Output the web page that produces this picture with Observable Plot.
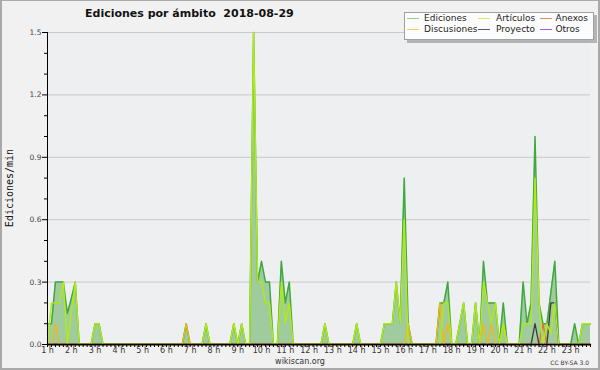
<!DOCTYPE html>
<html><head><meta charset="utf-8">
<script src="https://cdn.jsdelivr.net/npm/d3@7"></script>
<script src="https://cdn.jsdelivr.net/npm/@observablehq/plot@0.6"></script>
<style>
html,body{margin:0;padding:0;background:#fff;}
#wrap{position:relative;width:600px;height:370px;background:#f1f1f1;overflow:hidden;font-family:"DejaVu Sans",sans-serif;}
#border{position:absolute;left:0;top:0;width:600px;height:370px;box-sizing:border-box;border:1px solid #a9a9a9;border-width:1px 2px 2px 2px;pointer-events:none;}
#chart{position:absolute;left:0;top:0;}
.t{position:absolute;white-space:nowrap;line-height:1;}
#title{left:85px;top:8.4px;font-size:11px;font-weight:bold;color:#111;}
#ylab{left:9.7px;top:188px;font-family:"DejaVu Sans Mono",monospace;font-size:10px;color:#111;transform:translate(-50%,-50%) rotate(-90deg);}
#foot{left:300px;top:357.5px;font-size:8px;color:#333;transform:translateX(-50%);}
#cc{right:11px;top:359.5px;font-size:6px;color:#333;}
#shadow{position:absolute;left:407px;top:15px;width:190px;height:28px;background:#b4b4b4;}
#legend{position:absolute;left:404px;top:12px;width:188px;height:26px;background:#fcfcfc;border:1px solid #a0a0a0;}
.sw{position:absolute;height:1px;width:12px;}
.lt{position:absolute;font-size:9px;line-height:1;color:#222;white-space:nowrap;}
</style></head>
<body><div id="wrap"><div id="chart"></div>
<div class="t" id="title">Ediciones por ámbito&nbsp;&nbsp;2018-08-29</div>
<div class="t" id="ylab">Ediciones/min</div>
<div class="t" id="foot">wikiscan.org</div>
<div class="t" id="cc">CC BY-SA 3.0</div>
<div id="shadow"></div><div id="legend"></div>
<div id="border"></div>
</div>
<script>
// 10-minute samples starting at 1 h
const ediciones = [
 0.1,0.1,0.3,0.3,0.3,0.15,0.22,0.3,0,0,0,0,
 0.1,0.1,0,0,0,0,0,0,0,0,0,0,
 0,0,0,0,0,0,0,0,0,0,0,0.1,
 0,0,0,0,0.1,0,0,0,0,0,0,0.1,
 0,0.1,0,0,1.5,0.3,0.4,0.3,0.3,0,0,0.4,
 0.2,0.3,0,0,0,0,0,0,0,0,0.1,0,
 0,0,0,0,0,0,0.1,0,0,0,0,0,
 0,0.1,0.1,0.1,0.3,0.1,0.8,0.1,0,0,0,0,
 0,0,0,0.2,0.2,0.3,0,0,0.1,0.2,0,0,
 0.2,0,0.4,0.2,0.2,0.2,0,0.2,0,0,0,0,
 0.3,0.1,0.2,1.0,0.2,0.1,0.1,0.25,0.4,0,0,0,
 0,0.1,0,0.1,0.1,0.1];
const articulos = [
 0,0.2,0.2,0.2,0.3,0,0.15,0.3,0,0,0,0,
 0.1,0.1,0,0,0,0,0,0,0,0,0,0,
 0,0,0,0,0,0,0,0,0,0,0,0,
 0,0,0,0,0.1,0,0,0,0,0,0,0.1,
 0,0.1,0,0,1.5,0.3,0.3,0.2,0.2,0,0,0.3,
 0.1,0.2,0,0,0,0,0,0,0,0,0.1,0,
 0,0,0,0,0,0,0.1,0,0,0,0,0,
 0,0.1,0.1,0.1,0.3,0.1,0.6,0,0,0,0,0,
 0,0,0,0,0.2,0.2,0,0,0.1,0.2,0,0,
 0.2,0,0.3,0.2,0.1,0.2,0,0.1,0,0,0,0,
 0.1,0.1,0.1,0.8,0.2,0,0.1,0.05,0.2,0,0,0,
 0,0,0,0.1,0.1,0.1];
const discusiones = [
 0,0,0.1,0,0,0,0,0,0,0,0,0,
 0,0,0,0,0,0,0,0,0,0,0,0,
 0,0,0,0,0,0,0,0,0,0,0,0.1,
 0,0,0,0,0,0,0,0,0,0,0,0,
 0,0,0,0,0,0,0,0,0,0,0,0,
 0,0,0,0,0,0,0,0,0,0,0,0,
 0,0,0,0,0,0,0,0,0,0,0,0,
 0,0,0,0,0,0,0,0.1,0,0,0,0,
 0,0,0,0.2,0,0.1,0,0,0,0,0,0,
 0,0,0.1,0,0.1,0,0,0.1,0,0,0,0,
 0,0,0,0,0,0,0,0,0,0,0,0,
 0,0,0,0,0,0];
const anexos = [
 0,0,0,0,0,0,0,0,0,0,0,0, 0,0,0,0,0,0,0,0,0,0,0,0,
 0,0,0,0,0,0,0,0,0,0,0,0, 0,0,0,0,0,0,0,0,0,0,0,0,
 0,0,0,0,0,0,0,0,0,0,0,0, 0,0,0,0,0,0,0,0,0,0,0,0,
 0,0,0,0,0,0,0,0,0,0,0,0, 0,0,0,0,0,0,0,0,0,0,0,0,
 0,0,0,0,0,0,0,0,0,0,0,0, 0,0,0,0,0,0,0,0,0,0,0,0,
 0,0,0,0,0,0.1,0,0,0,0,0,0,
 0,0,0,0,0,0];
const proyecto = [
 0,0,0,0,0,0,0,0,0,0,0,0, 0,0,0,0,0,0,0,0,0,0,0,0,
 0,0,0,0,0,0,0,0,0,0,0,0, 0,0,0,0,0,0,0,0,0,0,0,0,
 0,0,0,0,0,0,0,0,0,0,0,0, 0,0,0,0,0,0,0,0,0,0,0,0,
 0,0,0,0,0,0,0,0,0,0,0,0, 0,0,0,0,0,0,0,0,0,0,0,0,
 0,0,0,0,0,0,0,0,0,0,0,0, 0,0,0,0,0,0,0,0,0,0,0,0,
 0,0,0,0.1,0,0,0,0.2,0.2,0,0,0,
 0,0,0,0,0,0];
const otros = ediciones.map(() => 0);
const hourTicks = d3.range(1, 24);
const yMajor = [0, 0.3, 0.6, 0.9, 1.2, 1.5];
const yMinor = [0.1,0.2,0.4,0.5,0.7,0.8,1.0,1.1,1.3,1.4];
const seriesNames = ["Ediciones","Artículos","Anexos","Discusiones","Proyecto","Otros"];
const seriesColors = {Ediciones:"#3fa93f", "Artículos":"#b2ea14", Anexos:"#ee6a34", Discusiones:"#f2b910", Proyecto:"#3a3a3a", Otros:"#9a44e6"};
const legendColors = {Ediciones:"#8fd38f", "Artículos":"#cdee5a", Anexos:"#f28a5e", Discusiones:"#f6d250", Proyecto:"#5a5a5a", Otros:"#9a5ee6"};

const N = ediciones.length;
const time = d3.range(N).map(i => 1 + i / 6);
const xMinor = d3.range(N).map(i => 1 + i / 6);
const mk = (arr) => arr.map((v, i) => ({t: time[i], v}));

const lineOpts = (arr, name, w) => Plot.lineY(mk(arr), {x: "t", y: "v", stroke: seriesColors[name], strokeWidth: w, curve: "linear"});

const chart = Plot.plot({
  width: 600, height: 370,
  marginLeft: 47, marginRight: 10, marginTop: 32, marginBottom: 26,
  style: {background: "transparent", fontFamily: "DejaVu Sans"},
  x: {domain: [1, 1 + (N - 1) / 6]},
  y: {domain: [0, 1.5]},
  marks: [
    Plot.frame({fill: "#eeeff1", stroke: null}),
    Plot.gridY([0.3, 0.6, 0.9, 1.2, 1.5], {stroke: "#c9c9c9", strokeOpacity: 1}),
    Plot.areaY(mk(ediciones), {x: "t", y: "v", fill: "#9fcb9f", curve: "linear"}),
    lineOpts(otros, "Otros", 1.3),
    lineOpts(ediciones, "Ediciones", 1.5),
    lineOpts(anexos, "Anexos", 1.3),
    lineOpts(proyecto, "Proyecto", 1.3),
    lineOpts(discusiones, "Discusiones", 1.3),
    lineOpts(articulos, "Artículos", 1.4),
    Plot.ruleY([0], {stroke: "#000", strokeWidth: 1.3}),
    Plot.ruleX([1], {stroke: "#000", strokeWidth: 1}),
    Plot.axisY(yMajor, {tickSize: 5, tickPadding: 1, tickFormat: d => d.toFixed(1), fontSize: 7.5, fill: "#444", stroke: "#000", label: null}),
    Plot.axisY(yMinor, {tickSize: 3, tickFormat: () => "", stroke: "#000", label: null}),
    Plot.axisX(xMinor, {tickSize: 3, tickFormat: () => "", stroke: "#000", label: null}),
    Plot.axisX(hourTicks, {tickSize: 0, tickPadding: 3, tickFormat: d => d + " h", fontSize: 8, fill: "#333", label: null})
  ]
});
document.getElementById("chart").appendChild(chart);

// legend
const legend = document.getElementById("legend");
const items = [
  ["Ediciones", 407, 18.3], ["Discusiones", 407, 29.3],
  ["Artículos", 477.5, 18.3], ["Proyecto", 477.5, 29.3],
  ["Anexos", 539.5, 18.3], ["Otros", 539.5, 29.3]
];
const textX = {407: 424, 477.5: 496, 539.5: 555.5};
for (const [name, lx, ly] of items) {
  const sw = document.createElement("div");
  sw.className = "sw";
  sw.style.left = (lx - 405) + "px";
  sw.style.top = (ly - 13) + "px";
  sw.style.background = legendColors[name];
  legend.appendChild(sw);
  const tx = document.createElement("div");
  tx.className = "lt";
  tx.textContent = name;
  tx.style.left = (textX[lx] - 405) + "px";
  tx.style.top = (ly - 13 - 4.3) + "px";
  legend.appendChild(tx);
}
</script>
</body></html>
